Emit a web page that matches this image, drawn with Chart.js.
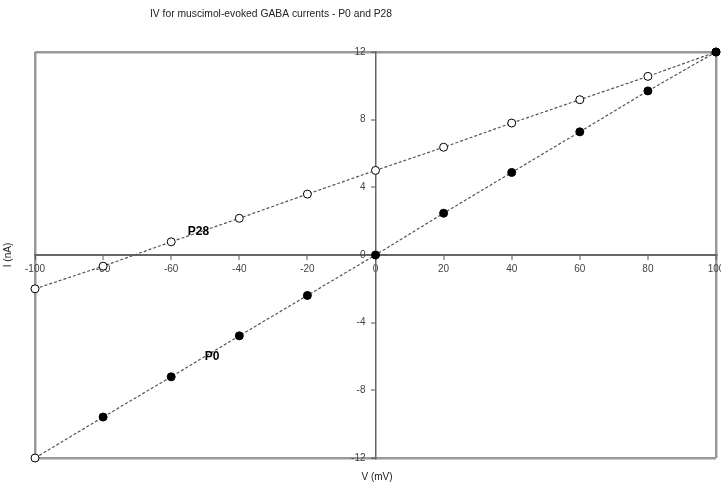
<!DOCTYPE html>
<html>
<head>
<meta charset="utf-8">
<script src="https://cdn.jsdelivr.net/npm/chart.js@4/dist/chart.umd.min.js"></script>
<style>
html,body{margin:0;padding:0;background:#fff;}
#wrap{width:721px;height:485px;}
</style>
</head>
<body>
<div id="wrap"><canvas id="c" width="721" height="485"></canvas></div>
<script>
const titleText = "IV for muscimol-evoked GABA currents - P0 and P28";
const xTitle = "V (mV)";
const yTitle = "I (nA)";
const voltages = [-100, -80, -60, -40, -20, 0, 20, 40, 60, 80, 100];
const p0Current = [-12, -9.58, -7.2, -4.78, -2.39, 0, 2.47, 4.88, 7.28, 9.7, 12];
const p28Current = [-2.0, -0.66, 0.78, 2.17, 3.6, 5.0, 6.37, 7.8, 9.18, 10.56, 12];
const seriesNames = ["P0", "P28"];
const labelAnchors = {P0: [-48, -6.0], P28: [-52, 1.4]};

const toPts = (ys) => voltages.map((x, i) => ({x: x, y: ys[i]}));

const FONT = "'Liberation Sans', Arial, sans-serif";

const textPlugin = {
  id: 'texts',
  afterDraw(chart) {
    const ctx = chart.ctx;
    const xs = chart.scales.x, ys = chart.scales.y;
    ctx.save();
    ctx.fillStyle = '#222';
    ctx.font = '10.3px ' + FONT;
    ctx.textAlign = 'center';
    ctx.textBaseline = 'middle';
    ctx.fillText(titleText, 271, 14);
    ctx.font = '10px ' + FONT;
    ctx.fillText(xTitle, 377, 477);
    ctx.save();
    ctx.translate(8, 255);
    ctx.rotate(-Math.PI / 2);
    ctx.fillText(yTitle, 0, 0);
    ctx.restore();
    ctx.font = 'bold 12px ' + FONT;
    ctx.fillStyle = '#000';
    seriesNames.forEach(n => {
      const a = labelAnchors[n];
      ctx.fillText(n, xs.getPixelForValue(a[0]), ys.getPixelForValue(a[1]));
    });
    ctx.restore();
  }
};

const noPad = (scale) => {
  scale.paddingLeft = 0; scale.paddingRight = 0;
  scale.paddingTop = 0; scale.paddingBottom = 0;
};

new Chart(document.getElementById('c'), {
  type: 'scatter',
  data: {
    datasets: [
      {
        label: seriesNames[0],
        data: toPts(p0Current),
        showLine: true,
        borderColor: '#555',
        borderWidth: 1.2,
        borderDash: [3, 2],
        pointRadius: 4,
        pointBorderWidth: 1,
        pointBorderColor: '#000',
        pointBackgroundColor: (c) => c.dataIndex === 0 ? '#fff' : '#000',
        clip: false
      },
      {
        label: seriesNames[1],
        data: toPts(p28Current),
        showLine: true,
        borderColor: '#555',
        borderWidth: 1.2,
        borderDash: [3, 2],
        pointRadius: 4,
        pointBorderWidth: 1,
        pointBorderColor: '#000',
        pointBackgroundColor: '#fff',
        clip: false
      }
    ]
  },
  options: {
    responsive: false,
    animation: false,
    layout: {padding: {left: 35, right: 4, top: 52, bottom: 27}},
    plugins: {legend: {display: false}, title: {display: false}, tooltip: {enabled: false}},
    scales: {
      x: {
        type: 'linear',
        position: {y: 0},
        min: -100, max: 100,
        afterFit: noPad,
        ticks: {stepSize: 20, autoSkip: false, maxRotation: 0, color: '#444', font: {size: 10, family: FONT}, padding: 4},
        grid: {
          color: (c) => (c.tick && Math.abs(c.tick.value) === 100) ? '#999' : 'rgba(0,0,0,0)',
          lineWidth: (c) => (c.tick && Math.abs(c.tick.value) === 100) ? 2.5 : 0,
          tickColor: '#555', tickWidth: 1, tickLength: 4, drawTicks: true
        },
        border: {display: true, color: '#666', width: 2}
      },
      y: {
        type: 'linear',
        position: {x: 0},
        min: -12, max: 12,
        afterFit: noPad,
        ticks: {stepSize: 4, autoSkip: false, color: '#444', font: {size: 10, family: FONT}, padding: 5,
          callback: (v) => v + '\u2002\u2002'},
        grid: {
          color: (c) => (c.tick && Math.abs(c.tick.value) === 12) ? '#999' : 'rgba(0,0,0,0)',
          lineWidth: (c) => (c.tick && Math.abs(c.tick.value) === 12) ? 2.5 : 0,
          tickColor: '#555', tickWidth: 1, tickLength: 4, drawTicks: true
        },
        border: {display: true, color: '#666', width: 1.5}
      }
    }
  },
  plugins: [textPlugin]
});
</script>
</body>
</html>
